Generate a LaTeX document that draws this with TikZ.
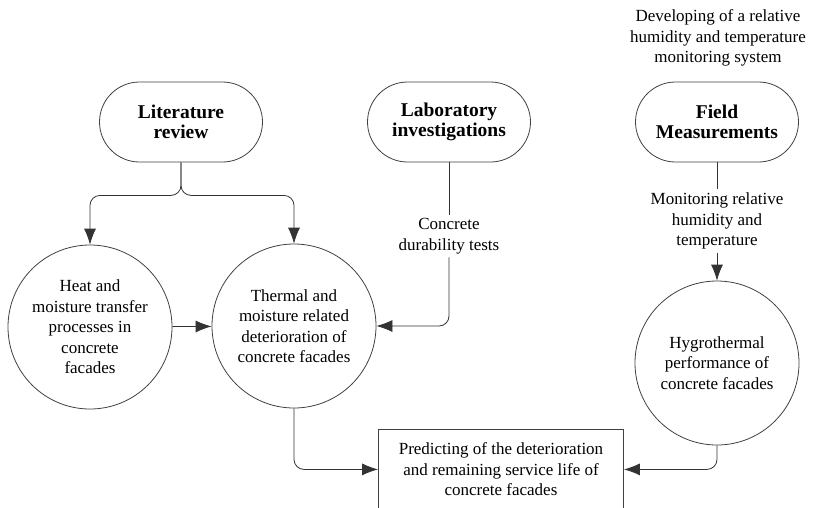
\documentclass[tikz,border=0pt]{standalone}
\usepackage{fontspec}
\setmainfont{Liberation Serif}
\usetikzlibrary{arrows.meta}
\begin{document}
\begin{tikzpicture}[x=1pt, y=-1pt,
    every node/.style={font=\fontsize{17}{20.5}\selectfont, align=center},
    term/.style={draw=black!75, line width=0.8pt, rounded corners=40pt, minimum width=163pt, minimum height=80pt, font=\fontsize{19.5}{20.5}\selectfont\bfseries},
    bubble/.style={draw=black!75, line width=0.8pt, circle, minimum size=164pt, inner sep=0pt},
    outcome/.style={draw=black!75, line width=0.8pt, minimum width=245pt, minimum height=80pt, anchor=north},
    link/.style={draw=black!80, line width=0.8pt, rounded corners=10pt, -{Latex[length=16pt,width=12pt]}},
    plain/.style={draw=black!80, line width=0.8pt}]
    \useasboundingbox (0,0) rectangle (819,507);
    \node[term] (lit) at (181,122) {Literature\\review};
    \node[term] (lab) at (449,122) {Laboratory\\investigations};
    \node[term] (field) at (717,122) {Field\\Measurements};
    \node (dev) at (718,38) {Developing of a relative\\humidity and temperature\\monitoring system};
    \node[bubble] (heat) at (90,327) {Heat and\\moisture transfer\\processes in\\concrete\\facades};
    \node[bubble] (therm) at (294,326) {Thermal and\\moisture related\\deterioration of\\concrete facades};
    \node[bubble] (hyg) at (717,363) {Hygrothermal\\performance of\\concrete facades};
    \node (tests) at (449,236) {Concrete\\durability tests};
    \node (monit) at (717,221) {Monitoring relative\\humidity and\\temperature};
    \node[outcome] (pred) at (501,429) {Predicting of the deterioration\\and remaining service life of\\concrete facades};
    % connectors
    \draw[link] (lit.south) -- ++(0,33) -| (heat.north);
    \draw[link] (lit.south) -- ++(0,33) -| (therm.north);
    \draw[link] (heat) -- (therm);
    \draw[plain] (lab) -- (tests);
    \draw[link] (tests.south) |- (therm.east);
    \draw[plain] (field) -- (monit);
    \draw[link] (monit) -- (hyg);
    \draw[link] (therm.south) |- (pred.west);
    \draw[link] (hyg.south) |- (pred.east);
\end{tikzpicture}
\end{document}
